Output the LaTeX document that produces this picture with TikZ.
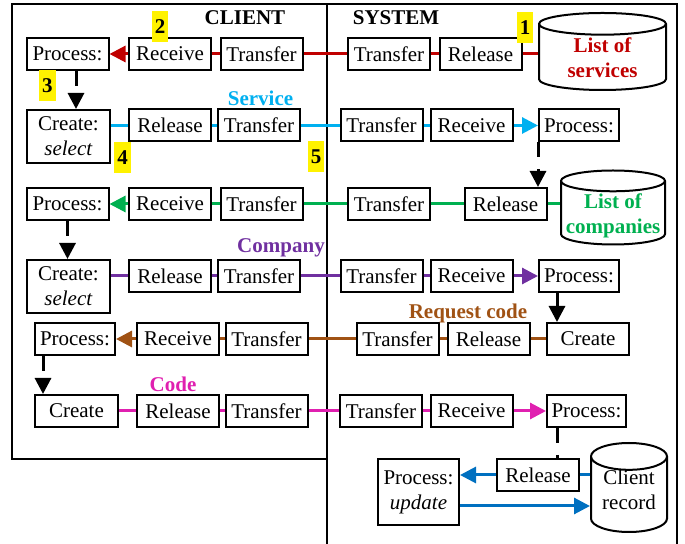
\documentclass[tikz,border=0pt]{standalone}
\usepackage{fontspec}
\setmainfont{Liberation Serif}
\usetikzlibrary{arrows.meta,shapes.geometric}

\definecolor{srvred}{RGB}{192,0,0}
\definecolor{srvcyan}{RGB}{0,176,240}
\definecolor{cmpgreen}{RGB}{0,176,80}
\definecolor{cmppurple}{RGB}{112,48,160}
\definecolor{reqbrown}{RGB}{160,82,20}
\definecolor{codepink}{RGB}{224,32,176}
\definecolor{recblue}{RGB}{0,112,192}

% two lines of text that do not widen the drum
\newcommand{\drumtext}[3]{\raisebox{#1}[0pt][0pt]{\begin{tabular}{@{}c@{}}#2\\#3\end{tabular}}}

\begin{document}
\begin{tikzpicture}[x=0.5pt,y=-0.5pt,>={Triangle[length=8pt,width=8pt]},
    font=\fontsize{10.5}{12.5}\selectfont,
    box node/.style={draw,line width=1pt,fill=white,minimum width=41pt,minimum height=16pt,inner sep=1pt},
    two node/.style={box node,align=center,minimum height=26.5pt},
    data node/.style={cylinder,shape border rotate=90,draw,line width=1pt,inner sep=0pt,
      anchor=shape center,font=\fontsize{10.5}{12.5}\selectfont\bfseries},
    num node/.style={fill=yellow,inner xsep=1.5pt,inner ysep=0pt,minimum height=15.5pt,
      font=\fontsize{10.5}{12}\selectfont\bfseries},
    tag node/.style={font=\fontsize{10.5}{12}\selectfont\bfseries},
    flow/.style={line width=1.5pt},
    hop line/.style={line width=1.5pt,dash pattern=on 7.5pt off 6pt},
    hop arrow/.style={hop line,->}]
  \useasboundingbox (0,0) rectangle (685,544);

  % frames
  \draw[line width=1pt] (12,4) rectangle (327,459);
  \draw[line width=1pt] (327,544) -- (327,4) -- (677,4) -- (677,544);
  \node[tag node] (client) at (245,18) {CLIENT};
  \node[tag node] (system) at (396,18) {SYSTEM};

  % row 1
  \node[box node] (c1p) at (67.5,54) {Process:};
  \node[box node] (c1r) at (170,54) {Receive};
  \node[box node] (c1t) at (261.5,54) {Transfer};
  \node[box node] (s1t) at (389,54) {Transfer};
  \node[box node] (s1r) at (480.5,54) {Release};
  \node[data node,text=srvred,minimum width=63.5pt,minimum height=38.5pt,aspect=0.31] (srv) at (602.5,51.5)
    {\drumtext{-4pt}{List of}{services}};

  % row 2
  \node[two node,minimum width=41.5pt] (c2c) at (68.5,136.5) {Create:\\\textit{select}};
  \node[box node] (c2r) at (170,125.5) {Release};
  \node[box node] (c2t) at (259,125.5) {Transfer};
  \node[box node] (s2t) at (381.5,125.5) {Transfer};
  \node[box node] (s2r) at (471.5,125.5) {Receive};
  \node[box node,minimum width=40pt] (s2p) at (579,125.5) {Process:};
  \node[tag node,text=srvcyan] (srvlbl) at (260.5,98) {Service};

  % row 3
  \node[box node] (c3p) at (67.5,204) {Process:};
  \node[box node] (c3r) at (170,204) {Receive};
  \node[box node] (c3t) at (261.5,204) {Transfer};
  \node[box node] (s3t) at (389,204) {Transfer};
  \node[box node] (s3r) at (505.5,204) {Release};
  \node[data node,text=cmpgreen,minimum width=52pt,minimum height=37pt,aspect=0.22] (cmp) at (613,207.5)
    {\drumtext{-4pt}{List of}{companies}};

  % row 4
  \node[two node,minimum width=41.5pt] (c4c) at (68.5,286.5) {Create:\\\textit{select}};
  \node[box node] (c4r) at (170,276) {Release};
  \node[box node] (c4t) at (259,276) {Transfer};
  \node[box node] (s4t) at (381.5,276) {Transfer};
  \node[box node] (s4r) at (471.5,276) {Receive};
  \node[box node,minimum width=40pt] (s4p) at (579,276) {Process:};
  \node[tag node,text=cmppurple] (cmplbl) at (281,248) {Company};

  % row 5
  \node[box node,minimum width=40pt] (c5p) at (75,339) {Process:};
  \node[box node] (c5r) at (178,339) {Receive};
  \node[box node] (c5t) at (266.5,339) {Transfer};
  \node[box node] (s5t) at (397.5,339) {Transfer};
  \node[box node] (s5r) at (488.5,339) {Release};
  \node[box node] (s5c) at (588,339) {Create};
  \node[tag node,text=reqbrown] (reqlbl) at (468,313) {Request code};

  % row 6
  \node[box node,minimum width=41.5pt] (c6c) at (76.5,411) {Create};
  \node[box node] (c6r) at (178,411) {Release};
  \node[box node] (c6t) at (266.5,411) {Transfer};
  \node[box node] (s6t) at (381,411) {Transfer};
  \node[box node] (s6r) at (471.5,411) {Receive};
  \node[box node,minimum width=39.5pt] (s6p) at (586.5,411) {Process:};
  \node[tag node,text=codepink] (codelbl) at (173,384) {Code};

  % row 7
  \node[box node] (s7r) at (538,475) {Release};
  \node[two node,minimum width=40.5pt,minimum height=33pt] (s7u) at (418.5,492) {Process:\\\textit{update}};
  \node[data node,font=\fontsize{10.5}{12.5}\selectfont,minimum width=38pt,minimum height=44.5pt,aspect=0.5] (rec) at (629,487.5)
    {\drumtext{-1.5pt}{Client}{record}};

  % connectors
  \draw[flow,srvred,->] (c1r) -- (c1p);
  \draw[flow,srvred] (c1r) -- (c1t) (c1t) -- (s1t) (s1t) -- (s1r) (s1r.east) -- (s1r.east -| srv.west);

  \draw[flow,srvcyan] (c2r.west -| c2c.east) -- (c2r) (c2r) -- (c2t) (c2t) -- (s2t) (s2t) -- (s2r);
  \draw[flow,srvcyan,->] (s2r) -- (s2p);

  \draw[flow,cmpgreen,->] (c3r) -- (c3p);
  \draw[flow,cmpgreen] (c3r) -- (c3t) (c3t) -- (s3t) (s3t) -- (s3r) (s3r.east) -- (s3r.east -| cmp.west);

  \draw[flow,cmppurple] (c4r.west -| c4c.east) -- (c4r) (c4r) -- (c4t) (c4t) -- (s4t) (s4t) -- (s4r);
  \draw[flow,cmppurple,->] (s4r) -- (s4p);

  \draw[flow,reqbrown,->] (c5r) -- (c5p);
  \draw[flow,reqbrown] (c5r) -- (c5t) (c5t) -- (s5t) (s5t) -- (s5r) (s5r) -- (s5c);

  \draw[flow,codepink] (c6c) -- (c6r) (c6r) -- (c6t) (c6t) -- (s6t) (s6t) -- (s6r);
  \draw[flow,codepink,->] (s6r) -- (s6p);

  \draw[flow,recblue] (s7r.east -| rec.west) -- (s7r);
  \draw[flow,recblue,->] (s7r) -- (s7r.west -| s7u.east);
  \coordinate (u2) at ([yshift=-7pt]s7u.east);
  \draw[flow,recblue,->] (u2) -- (u2 -| rec.west);

  % steps down
  \coordinate (d1) at ([xshift=4.25pt]c1p.south);
  \coordinate (d4) at ([xshift=-11pt]s4p.south);
  \coordinate (d5) at ([xshift=-16pt]c5p.south);
  \coordinate (d6) at ([xshift=-14.75pt]s6p.south);
  \draw[hop arrow] (d1) -- (d1 |- c2c.north);
  \draw[hop arrow] (s2p.south west) -- (s2p.south west |- s3r.north);
  \draw[hop arrow] (c3p.south) -- (c3p.south |- c4c.north);
  \draw[hop arrow] (d4) -- (d4 |- s5c.north);
  \draw[hop arrow] (d5) -- (d5 |- c6c.north);
  \draw[hop line] (d6) -- (d6 |- s7r.north);

  % step numbers
  \node[num node] (n1) at (525,28) {1};
  \node[num node] (n2) at (160,27) {2};
  \node[num node] (n3) at (47.5,86) {3};
  \node[num node] (n4) at (122.5,157.5) {4};
  \node[num node] (n5) at (316,157) {5};
\end{tikzpicture}
\end{document}
